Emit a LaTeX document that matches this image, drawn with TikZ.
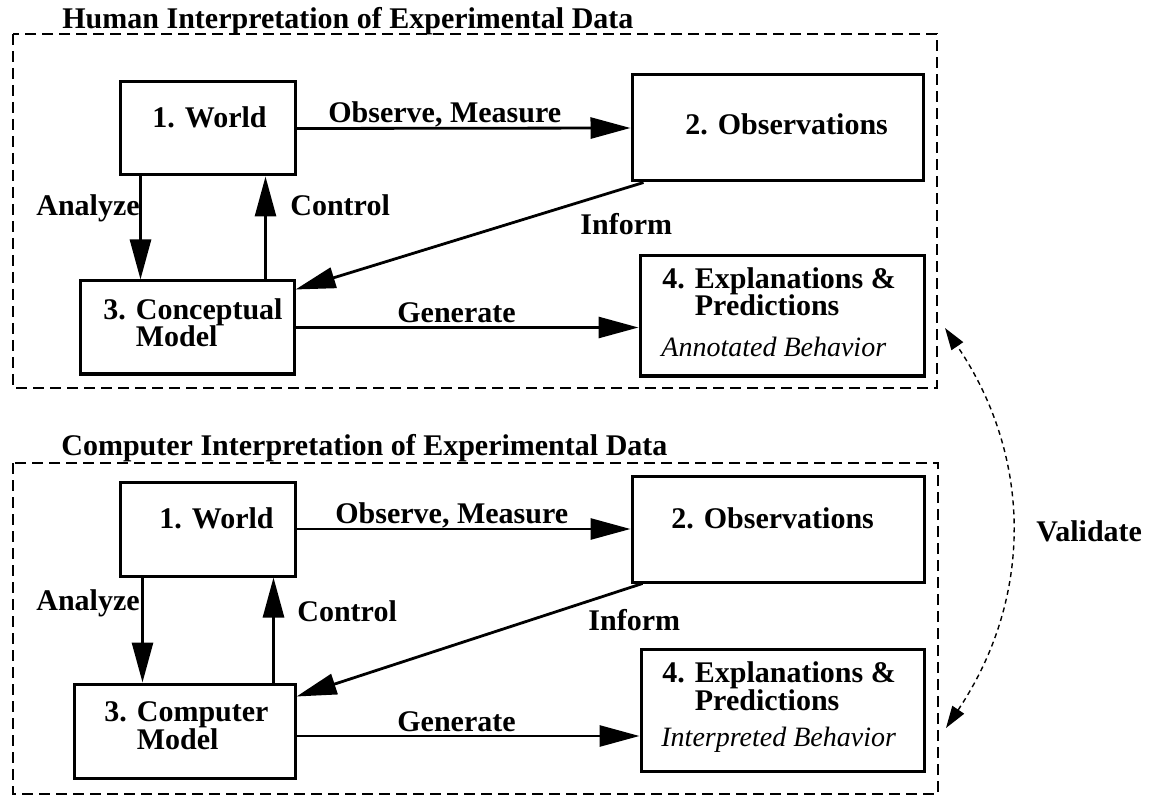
\documentclass[tikz,border=0pt]{standalone}
\usepackage{fontspec}
\setmainfont{Liberation Serif}
\usetikzlibrary{arrows.meta}
\newcommand{\tightlines}{\lineskiplimit=-20pt\relax\lineskip=0pt\relax}
\begin{document}
\begin{tikzpicture}[x=0.5pt,y=-0.5pt,
  box/.style={draw, line width=1.5pt, inner sep=0pt},
  txt/.style={anchor=base west, inner sep=0pt, font=\fontsize{15}{18}\selectfont\bfseries},
  mtxt/.style={anchor=base west, inner sep=0pt, align=left,
    font=\fontsize{15}{13.6}\selectfont\bfseries\tightlines},
  itx/.style={anchor=base west, inner sep=0pt, font=\fontsize{14}{16}\selectfont\itshape},
  arr/.style={line width=1.4pt, -{Triangle[length=20pt,width=10.5pt]}},
  framebox/.style={line width=1.2pt, dash pattern=on 5.5pt off 3pt},
  valid/.style={line width=0.7pt, dash pattern=on 2.5pt off 2pt,
    {Triangle[length=11pt,width=7pt]}-{Triangle[length=11pt,width=7pt]}}]
\useasboundingbox (0,0) rectangle (1150,796);

% ---------- top panel ----------
\node[txt] (ttitle) at (62,29) {Human Interpretation of Experimental Data};
\draw[framebox] (13,34) rectangle (937,388);

\node[box, minimum width=87.5pt, minimum height=46.5pt] (T1) at (207.5,128.5) {};
\node[box, minimum width=145.5pt, minimum height=53pt] (T2) at (777.5,128) {};
\node[box, minimum width=107pt, minimum height=46.5pt] (T3) at (187,327.5) {};
\node[box, minimum width=142pt, minimum height=60pt] (T4) at (782,316) {};

\node[txt] (T1a) at (152,128) {1. World};
\node[txt] (T2a) at (685,135) {2. Observations};
\node[mtxt] (T3a) at (103,347) {3. Conceptual\\\phantom{3. }Model};
\node[mtxt] (T4a) at (662,316) {4. Explanations \&\\\phantom{4. }Predictions};
\node[itx] (T4c) at (661,357) {Annotated Behavior};

\draw[arr] (T1.east) -- (T2.west);
\draw[arr] ([xshift=11pt]T1.south west) -- ([xshift=11pt]T1.south west |- T3.north);
\draw[arr] ([xshift=-15.5pt]T1.south east |- T3.north) -- ([xshift=-15.5pt]T1.south east);
\draw[arr] ([xshift=6.5pt]T2.south west) -- ([yshift=-5pt]T3.north east);
\draw[arr] (T3.east) -- (T3.east -| T4.west);

\node[txt] (tobs) at (328,123) {Observe, Measure};
\node[txt] (tana) at (36,216) {Analyze};
\node[txt] (tcon) at (290,216) {Control};
\node[txt] (tinf) at (580,235) {Inform};
\node[txt] (tgen) at (397,323) {Generate};

% ---------- bottom panel ----------
\node[txt] (btitle) at (61,455) {Computer Interpretation of Experimental Data};
\draw[framebox] (13,463) rectangle (938,794);

\node[box, minimum width=87.5pt, minimum height=47pt] (B1) at (207.5,529) {};
\node[box, minimum width=146pt, minimum height=53pt] (B2) at (778,529) {};
\node[box, minimum width=110.5pt, minimum height=47pt] (B3) at (184.5,731) {};
\node[box, minimum width=141.5pt, minimum height=61pt] (B4) at (782.5,710) {};

\node[txt] (B1a) at (159,528) {1. World};
\node[txt] (B2a) at (671,528) {2. Observations};
\node[mtxt] (B3a) at (104,749) {3. Computer\\\phantom{3. }Model};
\node[mtxt] (B4a) at (662,710) {4. Explanations \&\\\phantom{4. }Predictions};
\node[itx] (B4c) at (661,746) {Interpreted Behavior};

\draw[arr] (B1.east) -- (B2.west);
\draw[arr] ([xshift=12pt]B1.south west) -- ([xshift=12pt]B1.south west |- B3.north);
\draw[arr] ([xshift=-11.5pt]B1.south east |- B3.north) -- ([xshift=-11.5pt]B1.south east);
\draw[arr] ([xshift=6pt]B2.south west) -- ([yshift=-7pt]B3.north east);
\draw[arr] ([yshift=-2.5pt]B3.east) -- ([yshift=-2.5pt]B3.east -| B4.west);

\node[txt] (bobs) at (335,523) {Observe, Measure};
\node[txt] (bana) at (36,610) {Analyze};
\node[txt] (bcon) at (297,621) {Control};
\node[txt] (binf) at (588,630) {Inform};
\node[txt] (bgen) at (397,731) {Generate};

% ---------- validate ----------
\coordinate (vtop) at (945,328);
\coordinate (vbot) at (946,728);
\draw[valid] (vbot) to[bend right=34] (vtop);
\node[txt] (val) at (1036,541) {Validate};
\end{tikzpicture}
\end{document}
